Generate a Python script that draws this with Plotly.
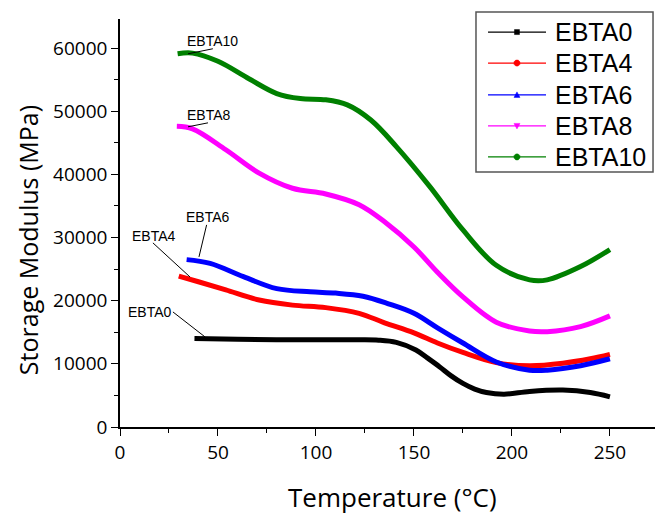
import plotly.graph_objects as go

# Storage modulus (MPa) vs temperature (°C) for each EBTA formulation
names = ["EBTA0", "EBTA4", "EBTA6", "EBTA8", "EBTA10"]
colors = ["#000000", "#ff0000", "#0000ff", "#ff00ff", "#008000"]

t_ebta0 = [38, 60, 90, 120, 132, 141, 151, 157, 163, 169, 175, 181, 187, 196, 209, 226, 240, 250]
e_ebta0 = [14000, 13900, 13800, 13800, 13750, 13400, 12200, 10900, 9550, 8100, 6900, 6000, 5460, 5200, 5630, 5840, 5460, 4780]

t_ebta4 = [30, 40, 54, 71, 88, 105, 122, 135, 150, 162, 175, 192, 209, 226, 240, 250]
e_ebta4 = [23900, 23000, 21700, 20100, 19300, 18900, 18000, 16500, 14900, 13300, 11800, 10200, 9700, 10100, 10800, 11500]

t_ebta6 = [34, 46, 63, 80, 97, 110, 124, 137, 150, 162, 175, 192, 209, 218, 235, 250]
e_ebta6 = [26500, 25900, 23800, 21900, 21400, 21200, 20700, 19500, 18000, 15700, 13300, 10300, 9000, 9000, 9700, 10800]

t_ebta8 = [29, 37, 54, 71, 88, 105, 122, 135, 150, 162, 175, 192, 209, 218, 235, 250]
e_ebta8 = [47600, 47200, 43900, 40200, 37800, 36900, 35200, 32500, 28500, 24500, 20600, 16600, 15200, 15100, 15900, 17600]

t_ebta10 = [29.4, 37, 50, 66, 80, 92, 105, 116, 128, 141, 158, 175, 192, 209, 218, 235, 250]
e_ebta10 = [59100, 59200, 57900, 55100, 52800, 52000, 51800, 51000, 48600, 44400, 38100, 31200, 25600, 23300, 23300, 25400, 28100]

temps = [t_ebta0, t_ebta4, t_ebta6, t_ebta8, t_ebta10]
moduli = [e_ebta0, e_ebta4, e_ebta6, e_ebta8, e_ebta10]

# Callout labels: text position and leader line (start -> end) in data units
label_x = [15.3, 17.1, 44.9, 45.2, 47.4]
label_y = [18140, 30260, 33190, 49430, 61150]
leader_x0 = [27.0, 16.8, 44.2, 44.9, 47.4]
leader_y0 = [18220, 29150, 32000, 48160, 59890]
leader_x1 = [43.4, 35.7, 40.3, 34.7, 34.7]
leader_y1 = [14260, 23760, 26930, 47530, 59090]

x_ticks = [0, 50, 100, 150, 200, 250]
y_ticks = [0, 10000, 20000, 30000, 40000, 50000, 60000]

# Legend key symbols as small pixel-sized paths (y offsets point upward)
octagon = "M-3,-1.2 L-1.2,-3 L1.2,-3 L3,-1.2 L3,1.2 L1.2,3 L-1.2,3 L-3,1.2 Z"
key_paths = [
    "M-2.5,-2.5 L2.5,-2.5 L2.5,2.5 L-2.5,2.5 Z",   # square
    octagon,                                       # round dot
    "M-3,-2.5 L3,-2.5 L0,3 Z",                     # triangle up
    "M-3,2.5 L3,2.5 L0,-3 Z",                      # triangle down
    octagon,                                       # round dot
]

fig = go.Figure()

for name, color, t, e in zip(names, colors, temps, moduli):
    fig.add_trace(go.Scatter(
        x=t, y=e, mode="lines", name=name, showlegend=False,
        line=dict(color=color, width=5, shape="spline", smoothing=1.0),
    ))

for name, lx, ly, x0, y0, x1, y1 in zip(names, label_x, label_y,
                                         leader_x0, leader_y0, leader_x1, leader_y1):
    fig.add_annotation(x=lx, y=ly, text=name, showarrow=False,
                       font=dict(family="Liberation Sans, Arial", size=14, color="black"))
    fig.add_shape(type="line", x0=x0, y0=y0, x1=x1, y1=y1,
                  line=dict(color="black", width=1))

# Legend box (paper coordinates)
box_left, box_right, box_top, box_bottom = 0.6654, 0.9963, 1.0172, 0.625
key_x0, key_x1, key_mid, text_x = 0.6879, 0.7963, 0.742, 0.8093
row_y = [0.968, 0.892, 0.814, 0.738, 0.662]

fig.add_shape(type="rect", xref="paper", yref="paper",
              x0=box_left, x1=box_right, y0=box_bottom, y1=box_top,
              line=dict(color="#555555", width=1.5), fillcolor="white", layer="above")
for name, color, path, ry in zip(names, colors, key_paths, row_y):
    fig.add_shape(type="line", xref="paper", yref="paper",
                  x0=key_x0, x1=key_x1, y0=ry, y1=ry,
                  line=dict(color=color, width=1.2), layer="above")
    fig.add_shape(type="path", xref="paper", yref="paper",
                  xsizemode="pixel", ysizemode="pixel",
                  xanchor=key_mid, yanchor=ry, path=path,
                  fillcolor=color, line=dict(color=color, width=0.5), layer="above")
    fig.add_annotation(xref="paper", yref="paper", x=text_x, y=ry, text=name,
                       showarrow=False, xanchor="left", yanchor="middle",
                       font=dict(family="Liberation Sans, Arial", size=25, color="black"))

tick_font = dict(family="Open Sans", size=19, color="black")

fig.update_xaxes(
    range=[0, 273], tickvals=x_ticks, showgrid=False, zeroline=False,
    showline=True, linecolor="black", linewidth=1.5,
    ticks="outside", ticklen=7, tickwidth=1.3, tickcolor="black",
    tickfont=tick_font,
    minor=dict(dtick=25, tick0=0, ticks="outside", ticklen=4, tickwidth=1.2, tickcolor="black"),
)
fig.update_yaxes(
    range=[0, 64600], tickvals=y_ticks, tickformat="d", showgrid=False, zeroline=False,
    showline=True, linecolor="black", linewidth=1.5,
    ticks="outside", ticklen=7, tickwidth=1.3, tickcolor="black",
    tickfont=tick_font,
    minor=dict(dtick=5000, tick0=0, ticks="outside", ticklen=4, tickwidth=1.2, tickcolor="black"),
)

fig.add_annotation(xref="paper", yref="paper", x=0.509, y=-0.172,
                   text="Temperature (°C)", showarrow=False,
                   xanchor="center", yanchor="middle",
                   font=dict(family="Open Sans", size=26, color="black"))
fig.add_annotation(xref="paper", yref="paper", x=0, xshift=-92, y=0.458,
                   text="Storage Modulus (MPa)", showarrow=False, textangle=-90,
                   xanchor="center", yanchor="middle",
                   font=dict(family="Open Sans", size=25, color="black"))

fig.update_layout(
    width=655, height=516,
    margin=dict(l=120, r=0, t=19, b=89),
    plot_bgcolor="white", paper_bgcolor="white",
    showlegend=False,
)

fig.write_html("out.html")
